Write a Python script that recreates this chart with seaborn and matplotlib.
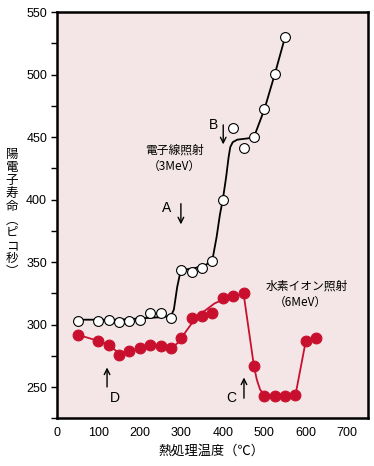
import matplotlib
matplotlib.use('Agg')
import matplotlib.pyplot as plt
import seaborn as sns
import pandas as pd

temp_e = [50, 100, 125, 150, 175, 200, 225, 250, 275, 300, 325, 350, 375,
          400, 425, 450, 475, 500, 525, 550]
life_e = [303, 303, 304, 302.5, 303, 304, 309, 309, 305, 344, 342, 345, 351,
          400, 457, 441.5, 450, 472.5, 500.5, 530]

temp_h = [50, 100, 125, 150, 175, 200, 225, 250, 275, 300, 325, 350, 375,
          400, 425, 450, 475, 500, 525, 550, 575, 600, 625]
life_h = [292, 287, 284, 276, 279, 281, 284, 283, 281, 289, 305, 307, 309,
          321, 323, 325, 267, 243, 243, 243, 243.5, 287, 289]

# hand-drawn guide curves
fit_e_x = [50, 100, 150, 200, 250, 275, 282, 290, 297, 305, 330, 360, 375,
           385, 393, 400, 408, 414, 418, 424, 435, 460, 475, 500, 525, 550]
fit_e_y = [304, 304, 304, 305, 306, 307, 312, 330, 341, 344, 345, 348, 352,
           370, 388, 400, 418, 434, 442, 446, 448, 449, 450, 472, 500, 530]
fit_h_x = [50, 100, 125, 150, 175, 200, 225, 250, 275, 290, 300, 312, 325,
           340, 360, 380, 400, 425, 450, 475, 482, 490, 500, 525, 550, 575,
           600, 625]
fit_h_y = [292, 287, 284, 277, 279, 281, 283, 283, 281, 285, 289, 295, 301,
           307, 312, 317, 320, 322.5, 325, 267, 256, 248, 244, 243, 243,
           243.5, 287, 289]

df_e = pd.DataFrame({'t': temp_e, 'v': life_e})
df_h = pd.DataFrame({'t': temp_h, 'v': life_h})

red = '#c8102e'
jp = ['Noto Sans CJK JP', 'DejaVu Sans']

fig = plt.figure(figsize=(3.74, 4.66), dpi=100)
ax = fig.add_axes([0.152, 0.102, 0.832, 0.872])
ax.set_facecolor('#f4e6e6')

# guide curves
sns.lineplot(x=fit_e_x, y=fit_e_y, color='black', lw=1.3, sort=False, ax=ax)
sns.lineplot(x=fit_h_x, y=fit_h_y, color=red, lw=1.3, sort=False, ax=ax)

# markers
sns.scatterplot(data=df_h, x='t', y='v', color=red, edgecolor=red, s=60,
                linewidth=0.8, zorder=3, ax=ax)
sns.scatterplot(data=df_e, x='t', y='v', color='white', edgecolor='black',
                s=50, linewidth=0.8, zorder=4, ax=ax)

ax.set_xlim(0, 750)
ax.set_ylim(225, 550)
ax.set_xticks(range(0, 701, 100))
ax.set_yticks(range(250, 551, 50))
ax.set_yticks(range(225, 551, 25), minor=True)
ax.tick_params(axis='x', length=0, labelsize=9, pad=6)
ax.tick_params(axis='y', which='both', length=4, width=1, labelsize=9, pad=3)
for lab in ax.get_xticklabels() + ax.get_yticklabels():
    lab.set_family('Liberation Sans')
for sp in ax.spines.values():
    sp.set_linewidth(1.8)
ax.set_xlabel('')
ax.set_ylabel('')

# arrows and letters
arr = dict(arrowstyle='->', color='black', lw=1, mutation_scale=10)
ax.annotate('', xy=(299, 378), xytext=(299, 399), arrowprops=arr)
ax.text(264, 393, 'A', fontsize=10, family='Liberation Sans', ha='center', va='center')
ax.annotate('', xy=(401, 442), xytext=(401, 462), arrowprops=arr)
ax.text(377, 460, 'B', fontsize=10, family='Liberation Sans', ha='center', va='center')
ax.annotate('', xy=(121, 268), xytext=(121, 248), arrowprops=arr)
ax.text(140, 241, 'D', fontsize=10, family='Liberation Sans', ha='center', va='center')
ax.annotate('', xy=(451, 260), xytext=(451, 239), arrowprops=arr)
ax.text(421, 241, 'C', fontsize=10, family='Liberation Sans', ha='center', va='center')

ax.text(284, 440, '電子線照射', fontsize=8.5, family=jp, ha='center', va='center')
ax.text(284, 427, '（3MeV）', fontsize=8.5, family=jp, ha='center', va='center')
ax.text(603, 331, '水素イオン照射', fontsize=8.5, family=jp, ha='center', va='center')
ax.text(588, 318, '（6MeV）', fontsize=8.5, family=jp, ha='center', va='center')

fig.text(0.565, 0.032, '熱処理温度（℃）', fontsize=9.5, family=jp, ha='center', va='center')
fig.text(0.032, 0.542, '陽\n電\n子\n寿\n命\n︵\nピ\nコ\n秒\n︶', fontsize=9,
         family=jp, ha='center', va='center', linespacing=1.0)

fig.savefig('out.png', dpi=100, facecolor='white')
